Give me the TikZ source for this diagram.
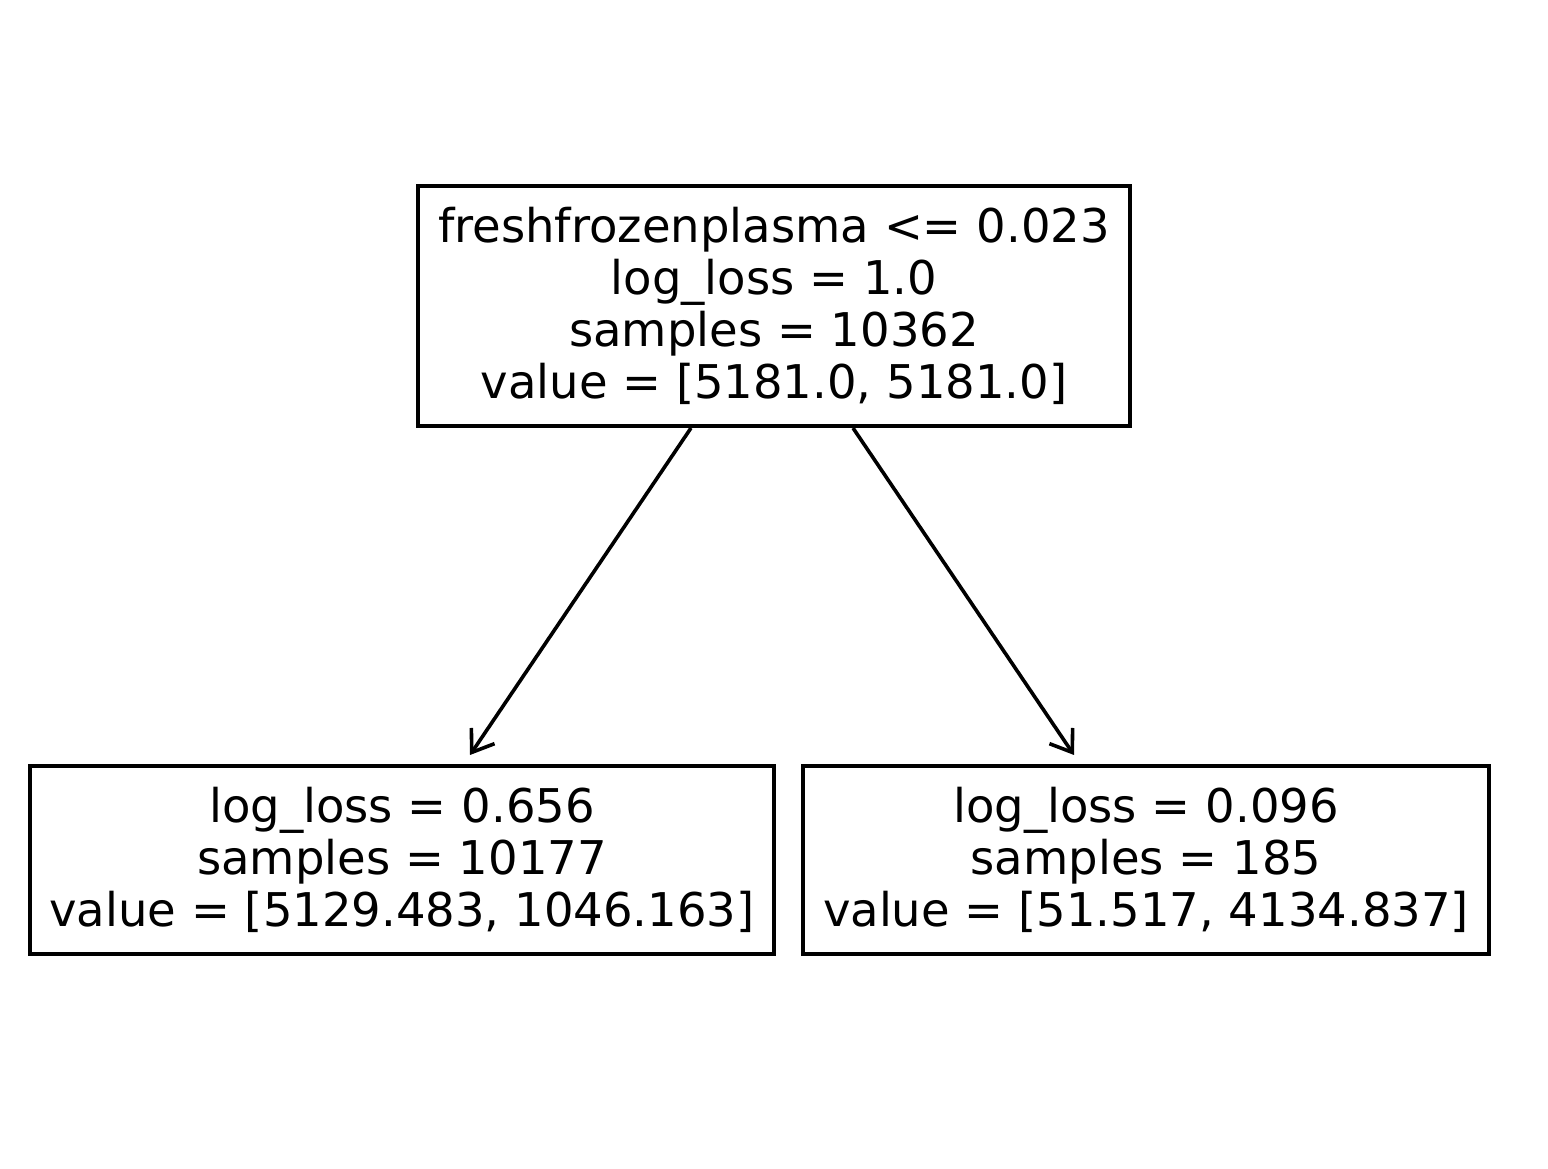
\documentclass[tikz,border=0pt]{standalone}
\usepackage{fontspec}
\setmainfont{DejaVu Sans}
\usetikzlibrary{calc,arrows.meta}
\begin{document}
\begin{tikzpicture}[x=1pt,y=1pt,
  treebox/.style={draw=black,line width=4pt,inner sep=0pt,align=center,
    font=\fontsize{46.5}{52}\selectfont},
  edge/.style={line width=3.6pt,-{Straight Barb[length=20pt,width=28pt,line width=3.6pt]}}]
\useasboundingbox (0,0) rectangle (1548,1168);
\node[treebox,minimum width=712pt,minimum height=240pt] (root) at (774,862)
  {freshfrozenplasma <= 0.023\\log\_loss = 1.0\\samples = 10362\\value = [5181.0, 5181.0]};
\node[treebox,minimum width=744pt,minimum height=188pt] (left) at (402,308)
  {log\_loss = 0.656\\samples = 10177\\value = [5129.483, 1046.163]};
\node[treebox,minimum width=686pt,minimum height=188pt] (right) at (1146,308)
  {log\_loss = 0.096\\samples = 185\\value = [51.517, 4134.837]};
\draw[edge] ($(root.south west)+(275,0)$) -- ($(left.north west)+(442,9)$);
\draw[edge] ($(root.south west)+(437,0)$) -- ($(right.north west)+(273,9)$);
\end{tikzpicture}
\end{document}
